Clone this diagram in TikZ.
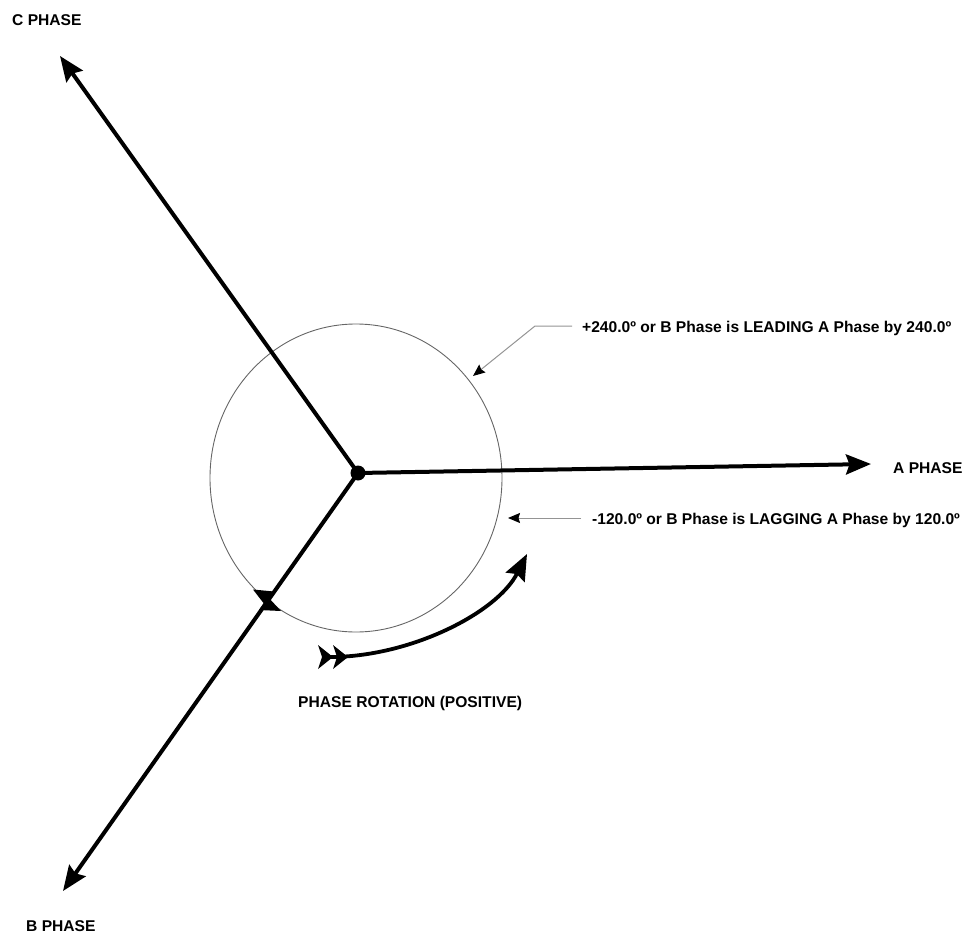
\documentclass[tikz,border=0pt]{standalone}
\usepackage{fontspec}
\setmainfont{Liberation Sans}
\usetikzlibrary{arrows.meta}
\begin{document}
\begin{tikzpicture}[x=1pt,y=-1pt,
  lbl/.style={font=\fontsize{15.6}{18}\selectfont\bfseries, inner sep=0pt, anchor=base west},
  phasor/.style={line width=4pt, -{Stealth[length=25pt,width=20pt,inset=3.5pt]}},
  leader/.style={draw=black!42, line width=1pt, -{Stealth[length=12pt,width=10pt,inset=1.5pt,color=black]}},
  rotarrow/.style={line width=3.8pt, -{Stealth[length=26pt,width=21pt,inset=3.5pt]}},
  ring/.style={draw=black!60, line width=0.9pt}]
\useasboundingbox (0,0) rectangle (980,936);
% reference circle
\draw[ring] (356,478) ellipse [x radius=146pt, y radius=154pt];
% phasors
\node[circle, fill=black, minimum size=15pt, inner sep=0pt] (O) at (358,473) {};
\coordinate (Atip) at (871,464);
\coordinate (Ctip) at (60,56);
\coordinate (Btip) at (63,891);
\draw[phasor] (O.center) -- (Atip);
\draw[phasor] (O.center) -- (Ctip);
\draw[phasor] (O.center) -- (Btip);
% labels
\node[lbl] (Clbl) at (12,26) {C PHASE};
\node[lbl] (Albl) at (893,473) {A PHASE};
\node[lbl] (Blbl) at (26,931) {B PHASE};
\node[lbl] (lead) at (582,332) {+240.0º or B Phase is LEADING A Phase by 240.0º};
\node[lbl] (lag) at (592,524) {-120.0º or B Phase is LAGGING A Phase by 120.0º};
\node[lbl] (rot) at (298,707) {PHASE ROTATION (POSITIVE)};
% leaders
\coordinate (L1a) at (572,326);
\coordinate (L1b) at (535,326);
\coordinate (L1t) at (473,376);
\draw[leader] (L1a) -- (L1b) -- (L1t);
\coordinate (L2a) at (581,518);
\coordinate (L2t) at (508,518);
\draw[leader] (L2a) -- (L2t);
% crossing marks on B phasor
\fill (253,589.5) -- (274,591.5) -- (265,605) -- cycle;
\fill (281,611) -- (259,610) -- (268,597) -- cycle;
% phase rotation arrow
\coordinate (R0) at (330,657);
\coordinate (R1) at (527,554);
\draw[rotarrow] (R0) .. controls (410,657) and (497,613) .. (R1);
% fletching at the tail
\fill (333,657) -- (318,645) -- (322,657) -- (318,669) -- cycle;
\fill (348,657) -- (333,645) -- (337,657) -- (333,669) -- cycle;
\end{tikzpicture}
\end{document}
